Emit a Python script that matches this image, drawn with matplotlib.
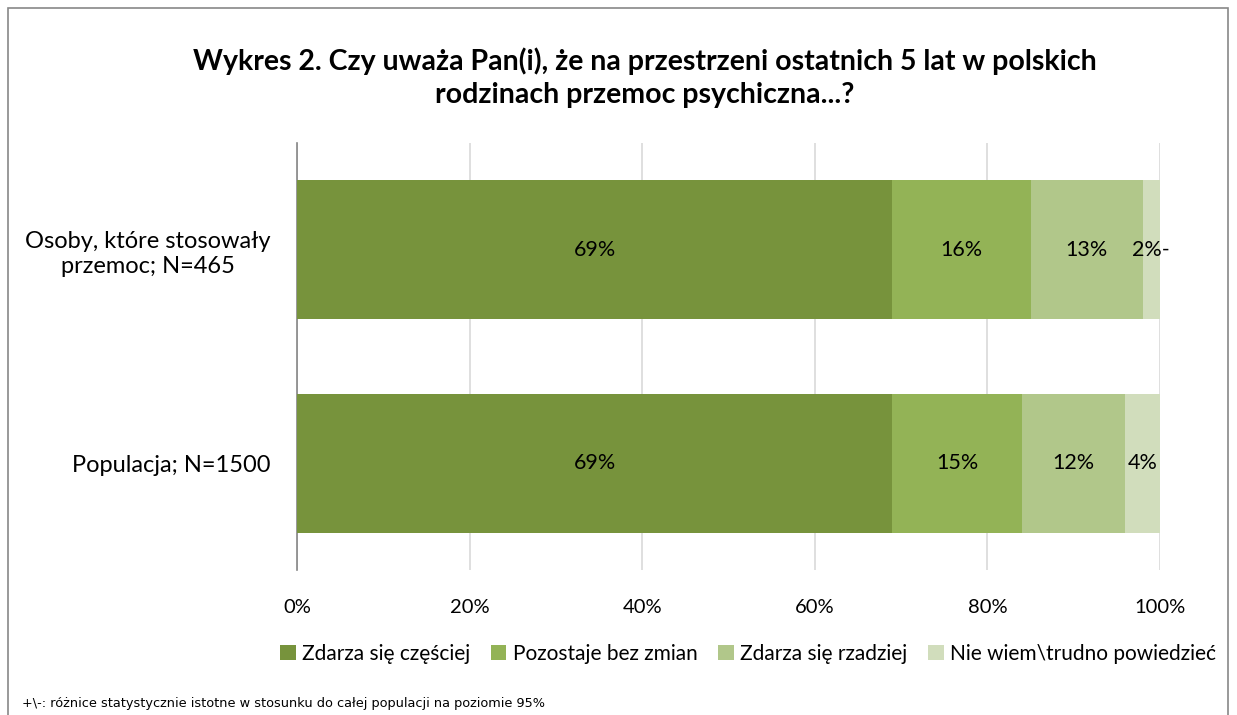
import matplotlib.pyplot as plt
from matplotlib.patches import Rectangle

categories = ["Osoby, które stosowały\nprzemoc; N=465", "Populacja; N=1500"]
series = ["Zdarza się częściej", "Pozostaje bez zmian", "Zdarza się rzadziej", "Nie wiem\\trudno powiedzieć"]
values = [
    [69, 69],
    [16, 15],
    [13, 12],
    [2, 4],
]
labels = [
    ["69%", "69%"],
    ["16%", "15%"],
    ["13%", "12%"],
    ["2%-", "4%"],
]
colors = ["#77933C", "#93B356", "#B1C78A", "#D1DDBC"]
ticks = [0, 20, 40, 60, 80, 100]

plt.rcParams['font.family'] = ['Lato', 'DejaVu Sans']

fig = plt.figure(figsize=(12.37, 7.15), dpi=100)
ax = fig.add_axes([297 / 1237, 1 - 570 / 715, 863 / 1237, 427 / 715])

# outer chart border
fig.patches.append(Rectangle((8 / 1237, -0.1), 1220 / 1237, 1.1 - 8 / 715,
                             transform=fig.transFigure, fill=False,
                             edgecolor="#888888", linewidth=1.2))

y = [1, 0]
left = [0, 0]
for i, name in enumerate(series):
    ax.barh(y, values[i], left=left, height=0.65, color=colors[i], label=name, zorder=3)
    for j in range(2):
        ax.text(left[j] + values[i][j] / 2, y[j], labels[i][j], ha="center", va="center",
                fontsize=15.5, color="black", zorder=4)
    left = [left[k] + values[i][k] for k in range(2)]

ax.set_xlim(0, 100)
ax.set_ylim(-0.5, 1.5)
ax.set_xticks(ticks)
ax.set_xticklabels([f"{t}%" for t in ticks], fontsize=14.5)
ax.set_yticks(y)
ax.set_yticklabels(categories, fontsize=17, multialignment="center", linespacing=1.25)
ax.tick_params(axis="both", length=0)
ax.tick_params(axis="x", pad=21)
ax.tick_params(axis="y", pad=19)
ax.grid(axis="x", color="#D9D9D9", linewidth=1.2, zorder=0)
for s in ["top", "right", "bottom"]:
    ax.spines[s].set_visible(False)
ax.spines["left"].set_color("#868686")
ax.spines["left"].set_linewidth(1.2)

fig.text(0.5 + 26 / 1237, 1 - 78 / 715,
         "Wykres 2. Czy uważa Pan(i), że na przestrzeni ostatnich 5 lat w polskich\nrodzinach przemoc psychiczna...?",
         ha="center", va="center", fontsize=20.5, fontweight="bold", linespacing=1.35)

fig.legend(loc="center", bbox_to_anchor=(748 / 1237, 1 - 654 / 715), ncol=4, frameon=False,
           fontsize=15, handlelength=0.75, handleheight=0.75, handletextpad=0.3, columnspacing=1.0)

fig.text(22 / 1237, 1 - 703 / 715,
         "+\\-: różnice statystycznie istotne w stosunku do całej populacji na poziomie 95%",
         fontsize=9.3, family=["Liberation Sans Narrow", "DejaVu Sans"], va="center")

fig.savefig("out.png", dpi=100)
